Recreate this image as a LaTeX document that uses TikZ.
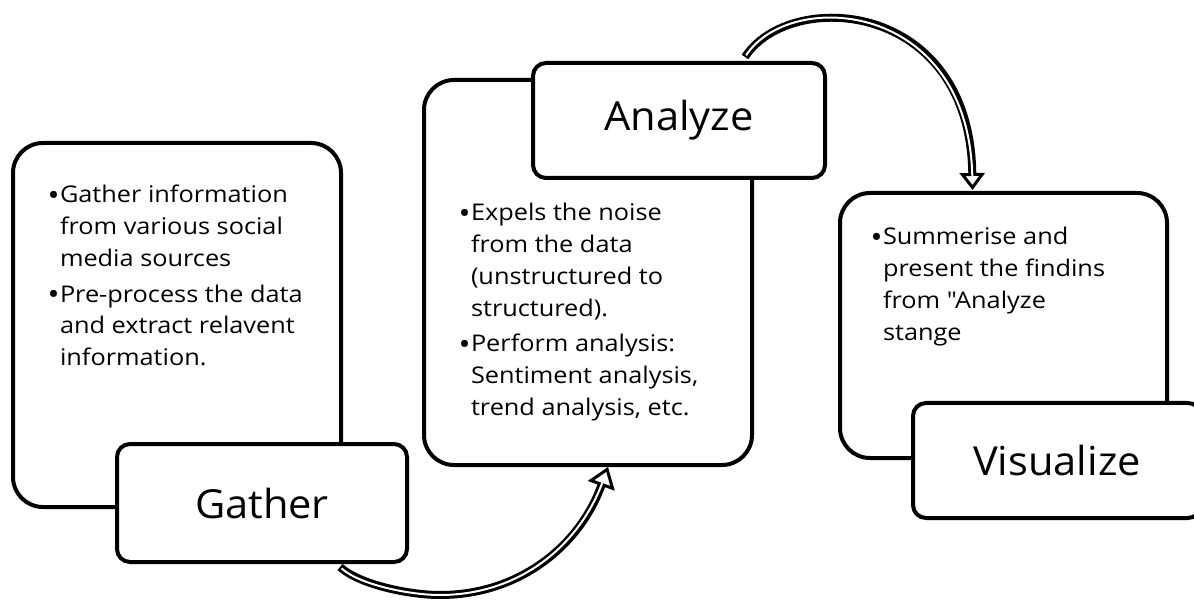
\documentclass[tikz,border=0pt]{standalone}
\usepackage{fontspec}
\setmainfont{Open Sans}[Ligatures=TeXOff]
\newfontfamily\bodyfont{Open Sans}[Ligatures=TeXOff, FakeStretch=1.1]
\newfontfamily\labelfont{Open Sans}[Ligatures=TeXOff, FakeStretch=1.04]
\newcommand{\itembullet}{\llap{\raisebox{-2.5pt}{\fontsize{29}{0}\selectfont•}\hspace{0.5pt}}}
\usetikzlibrary{arrows.meta,calc}
\begin{document}
\begin{tikzpicture}[x=1pt,y=-1pt,
  bigbox/.style={draw, line width=4pt, rounded corners=30pt, inner sep=0pt, outer sep=0pt, anchor=north west},
  labelbox/.style={draw, fill=white, line width=4pt, rounded corners=13pt, inner sep=0pt, outer sep=0pt, anchor=north west, font=\labelfont\fontsize{40}{48}\selectfont},
  bodytext/.style={anchor=north west, inner sep=0pt, outer sep=0pt, align=left, font=\bodyfont\fontsize{23}{31.7}\selectfont},
  flow/.style={line width=8pt, postaction={draw=white, line width=2pt, shorten >=#1, shorten <=2pt, -}}
]
\clip (0,0) rectangle (1194,601);
\fill[white] (0,0) rectangle (1194,601);
% big boxes
\node[bigbox, minimum width=328pt, minimum height=364pt] (gb) at (13,143) {};
\node[bigbox, minimum width=328pt, minimum height=385pt] (ab) at (424,80) {};
\node[bigbox, minimum width=327pt, minimum height=265pt] (vb) at (840,193) {};
% label boxes
\node[labelbox, minimum width=290pt, minimum height=118pt] (gl) at (117,444) {Gather};
\node[labelbox, minimum width=292pt, minimum height=115pt] (al) at (533,63) {Analyze};
\node[labelbox, minimum width=288pt, minimum height=115pt] (vl) at (913,403) {Visualize};
% body texts
\node[bodytext] (gt) at (60,180.8) {\strut\itembullet Gather information\\from various social\\media sources\\[4pt]\itembullet Pre-process the data\\and extract relavent\\information.};
\node[bodytext] (at) at (471,198.8) {\strut\itembullet Expels the noise\\from the data\\(unstructured to\\structured).\\[4pt]\itembullet Perform analysis:\\Sentiment analysis,\\trend analysis, etc.};
\node[bodytext] (vt) at (883,222.8) {\strut\itembullet Summerise and\\present the findins\\from "Analyze\\stange};
% arrows
\coordinate (b0) at ($(gl.south east)+(-67,5)$);
\coordinate (b1) at ($(ab.south)+(20,2)$);
\coordinate (bm) at (440,595);
\draw[flow=14pt, -{Triangle[open, fill=white, length=20pt, width=28pt, line width=3pt]}]
  (b0) .. controls (360,585) and (410,595) .. (bm) .. controls (520,595) and (580,545) .. (b1);
\coordinate (t0) at ($(al.north east)+(-80,-6)$);
\coordinate (t1) at ($(vb.north)+(-31,-3)$);
\draw[flow=11pt, -{Triangle[open, fill=white, length=17pt, width=25pt, line width=3pt]}]
  (t0) .. controls (790,-12) and (970,0) .. (t1);
\end{tikzpicture}
\end{document}
